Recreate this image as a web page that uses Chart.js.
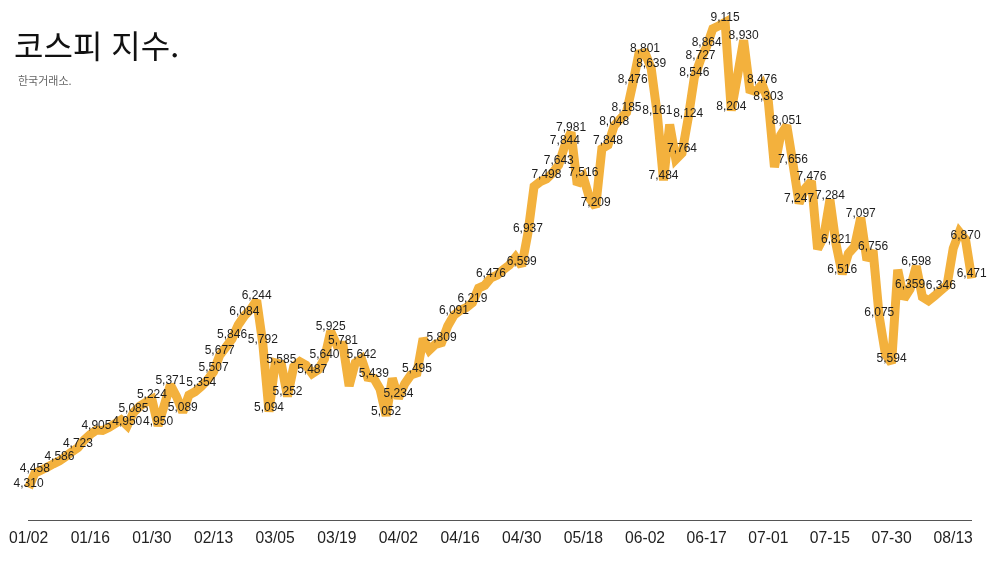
<!DOCTYPE html>
<html lang="ko">
<head>
<meta charset="UTF-8">
<title>코스피 지수</title>
<script src="https://cdn.jsdelivr.net/npm/chart.js@4.4.1/dist/chart.umd.min.js"></script>
<style>
    body { margin: 0; background: #fff; }
    #wrap { position: relative; width: 1000px; height: 563px; }
    #kospi { position: absolute; left: 0; top: 0; }
    #title { position: absolute; left: 14px; top: 28px; font: 400 32px/32px "Noto Sans CJK KR", sans-serif; color: #111; white-space: nowrap; }
    #sub { position: absolute; left: 18px; top: 75px; font: 400 11px/11px "Noto Sans CJK KR", sans-serif; color: #666; white-space: nowrap; }
</style>
</head>
<body>
<div id="wrap">
    <canvas id="kospi" width="1000" height="563"></canvas>
    <div id="title">코스피 지수.</div>
    <div id="sub">한국거래소.</div>
</div>

<script>
    // trading days (only every 10th one is printed on the axis)
    const dates = [
        '01/02', '01/05', '01/06', '01/07', '01/08', '01/09', '01/12', '01/13', '01/14', '01/15',
        '01/16', '01/19', '01/20', '01/21', '01/22', '01/23', '01/26', '01/27', '01/28', '01/29',
        '01/30', '02/02', '02/03', '02/04', '02/05', '02/06', '02/09', '02/10', '02/11', '02/12',
        '02/13', '02/19', '02/20', '02/23', '02/24', '02/25', '02/26', '02/27', '03/03', '03/04',
        '03/05', '03/06', '03/09', '03/10', '03/11', '03/12', '03/13', '03/16', '03/17', '03/18',
        '03/19', '03/20', '03/23', '03/24', '03/25', '03/26', '03/27', '03/30', '03/31', '04/01',
        '04/02', '04/03', '04/06', '04/07', '04/08', '04/09', '04/10', '04/13', '04/14', '04/15',
        '04/16', '04/17', '04/20', '04/21', '04/22', '04/23', '04/24', '04/27', '04/28', '04/29',
        '04/30', '05/04', '05/06', '05/07', '05/08', '05/11', '05/12', '05/13', '05/14', '05/15',
        '05/18', '05/19', '05/20', '05/21', '05/22', '05/26', '05/27', '05/28', '05/29', '06-01',
        '06-02', '06-04', '06-05', '06-08', '06-09', '06-10', '06-11', '06-12', '06-15', '06-16',
        '06-17', '06-18', '06-19', '06-22', '06-23', '06-24', '06-25', '06-26', '06-29', '06-30',
        '07-01', '07-02', '07-03', '07-06', '07-07', '07-08', '07-09', '07-10', '07-13', '07-14',
        '07-15', '07-16', '07-20', '07-21', '07-22', '07-23', '07-24', '07-27', '07-28', '07-29',
        '07-30', '07-31', '08/03', '08/04', '08/05', '08/06', '08/07', '08/10', '08/11', '08/12',
        '08/13', '08/14', '08/18', '08/19'
    ];

    // closing index
    const closes = [
        4310, 4458, 4490, 4520, 4555, 4586, 4630, 4680, 4723, 4800,
        4860, 4905, 4900, 4930, 4970, 5010, 4950, 5085, 5150, 5190,
        5224, 4950, 5160, 5371, 5250, 5089, 5265, 5300, 5354, 5420,
        5507, 5677, 5760, 5846, 5990, 6084, 6150, 6244, 5792, 5094,
        5600, 5585, 5252, 5558, 5610, 5575, 5487, 5530, 5640, 5925,
        5782, 5781, 5360, 5600, 5642, 5450, 5439, 5330, 5052, 5438,
        5234, 5380, 5472, 5495, 5850, 5730, 5790, 5809, 5980, 6091,
        6140, 6170, 6219, 6370, 6400, 6476, 6505, 6560, 6610, 6690,
        6599, 6937, 7420, 7470, 7498, 7560, 7643, 7844, 7981, 7440,
        7516, 7300, 7209, 7810, 7848, 8048, 8120, 8185, 8476, 8790,
        8801, 8639, 8161, 7484, 8060, 7700, 7764, 8124, 8546, 8727,
        8864, 9050, 9080, 9115, 8204, 8560, 8930, 8420, 8400, 8476,
        8303, 7620, 7950, 8051, 7656, 7247, 7400, 7476, 6774, 6900,
        7284, 6821, 6516, 6729, 6800, 7097, 6660, 6756, 6075, 5690,
        5594, 6560, 6260, 6359, 6598, 6280, 6240, 6290, 6346, 6400,
        6780, 6950, 6870, 6471
    ];

    const yMin = 3974;
    const yMax = 9346;

    // keep the miter tips short on the sharp turns
    const shortJoins = {
        id: 'shortJoins',
        beforeDatasetsDraw(chart) {
            chart.ctx.miterLimit = 2.5;
        },
        afterDatasetsDraw(chart) {
            chart.ctx.miterLimit = 10;
        }
    };

    // value labels, checked right to left; a label that would overlap one already drawn is skipped
    const valueLabels = {
        id: 'valueLabels',
        afterDatasetsDraw(chart) {
            const ctx = chart.ctx;
            const meta = chart.getDatasetMeta(0);
            const vals = chart.data.datasets[0].data;
            ctx.save();
            ctx.font = '12px "Liberation Sans", Arial, Helvetica, sans-serif';
            ctx.fillStyle = '#1e1e1e';
            ctx.textAlign = 'center';
            ctx.textBaseline = 'alphabetic';
            let boxes = [];
            for (let i = meta.data.length - 1; i >= 0; i--) {
                let p = meta.data[i];
                let txt = vals[i].toLocaleString('en-US');
                let w = ctx.measureText(txt).width;
                let cy = p.y - 5.5;
                let box = { l: p.x - w / 2, r: p.x + w / 2, t: cy - 6, b: cy + 6 };
                let hit = boxes.some(b => box.l < b.r && box.r > b.l && box.t < b.b && box.b > b.t);
                if (hit) continue;
                boxes.push(box);
                ctx.fillText(txt, p.x, p.y - 1);
            }
            ctx.restore();
        }
    };

    new Chart(document.getElementById('kospi'), {
        type: 'line',
        data: {
            labels: dates,
            datasets: [{
                data: closes,
                borderColor: '#F3B13D',
                borderWidth: 9,
                pointRadius: 0,
                pointHoverRadius: 0,
                tension: 0,
                fill: false
            }]
        },
        options: {
            responsive: false,
            animation: false,
            layout: {
                padding: { left: 27.5, right: 28.3, top: 0, bottom: 6 }
            },
            plugins: {
                legend: { display: false },
                tooltip: { enabled: false }
            },
            scales: {
                x: {
                    grid: { display: false, drawTicks: false },
                    border: { display: true, color: '#555', width: 1 },
                    ticks: {
                        autoSkip: false,
                        maxRotation: 0,
                        padding: 9,
                        color: '#222',
                        font: { family: '"Liberation Sans", Arial, Helvetica, sans-serif', size: 15.7 },
                        callback: function (v, i) {
                            return i % 10 === 0 ? this.getLabelForValue(v) : '';
                        }
                    }
                },
                y: {
                    display: false,
                    min: yMin,
                    max: yMax
                }
            }
        },
        plugins: [shortJoins, valueLabels]
    });
</script>
</body>
</html>
